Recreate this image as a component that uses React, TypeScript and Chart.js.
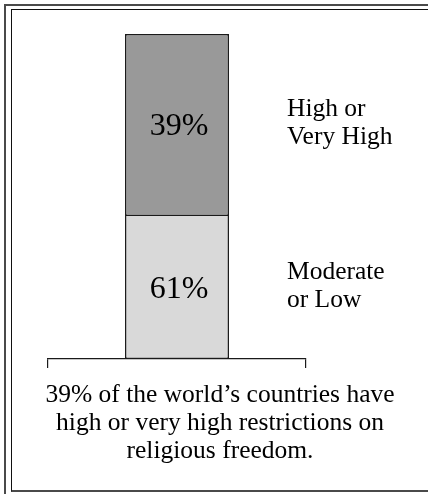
import React, { useEffect, useRef } from "react";
import { Chart, registerables } from "chart.js";

Chart.register(...registerables);

// ---- data ----
const categories = ["Countries"];
const segmentNames = ["Moderate or Low", "High or Very High"];
// segment heights as drawn in the picture (bottom, top)
const barValues = [44, 56];
const percentLabels = ["61%", "39%"];
const sideLabels = [
  ["Moderate", "or Low"],
  ["High or", "Very High"],
];
const segmentColors = ["#d9d9d9", "#999999"];
const captionLines = [
  "39% of the world\u2019s countries have",
  "high or very high restrictions on",
  "religious freedom.",
];

const SERIF = '"Liberation Serif", "DejaVu Serif", serif';

const labelPlugin = {
  id: "segmentLabels",
  afterDatasetsDraw(chart: any) {
    const ctx = chart.ctx;
    ctx.save();
    ctx.fillStyle = "#000000";
    chart.data.datasets.forEach((_ds: any, i: number) => {
      const meta = chart.getDatasetMeta(i);
      const bar: any = meta.data[0];
      if (!bar) return;
      const props = bar.getProps(["x", "y", "base", "width"], true);
      const cy = (props.y + props.base) / 2;
      // percent inside bar
      ctx.font = `32px ${SERIF}`;
      ctx.textAlign = "center";
      ctx.textBaseline = "alphabetic";
      ctx.fillText(percentLabels[i], props.x + 2, cy + 10);
      // side label
      ctx.font = `25.5px ${SERIF}`;
      ctx.textAlign = "left";
      const lx = props.x + props.width / 2 + 58;
      const lines = sideLabels[i];
      lines.forEach((t: string, k: number) => {
        ctx.fillText(t, lx, cy - 9 + k * 28);
      });
    });
    // caption
    const area = chart.chartArea;
    ctx.font = `25.5px ${SERIF}`;
    ctx.textAlign = "center";
    const cx = chart.width / 2 + 6;
    captionLines.forEach((t: string, k: number) => {
      ctx.fillText(t, cx, area.bottom + 43 + k * 28);
    });
    ctx.restore();
  },
};

export default function App() {
  const canvasRef = useRef<HTMLCanvasElement | null>(null);

  useEffect(() => {
    const canvas = canvasRef.current;
    if (!canvas) return;
    const chart = new Chart(canvas, {
      type: "bar",
      data: {
        labels: categories,
        datasets: barValues.map((v, i) => ({
          label: segmentNames[i],
          data: [v],
          backgroundColor: segmentColors[i],
          borderColor: "#1a1a1a",
          borderWidth: 1.5,
          borderSkipped: i === 0 ? "top" : false,
          barPercentage: 0.403,
          categoryPercentage: 1,
        })),
      },
      options: {
        responsive: false,
        animation: false,
        devicePixelRatio: 1,
        layout: { padding: { left: 48, right: 122, top: 34, bottom: 126 } },
        plugins: {
          legend: { display: false },
          tooltip: { enabled: false },
          title: { display: false },
        },
        scales: {
          x: {
            stacked: true,
            offset: true,
            grid: {
              display: true,
              offset: true,
              drawOnChartArea: false,
              drawTicks: true,
              tickLength: 9,
              color: "#1a1a1a",
              lineWidth: 1.2,
            },
            border: { display: true, color: "#1a1a1a", width: 1.2 },
            ticks: { display: false },
          },
          y: {
            stacked: true,
            display: false,
            min: 0,
            max: 100,
          },
        },
      },
      plugins: [labelPlugin],
    });
    return () => chart.destroy();
  }, []);

  return (
    <div
      style={{
        position: "fixed",
        left: 0,
        top: 0,
        width: 428,
        height: 494,
        overflow: "hidden",
        background: "#ffffff",
      }}
    >
      <div
        style={{
          position: "absolute",
          left: 4,
          top: 4,
          width: 600,
          height: 600,
          borderLeft: "2px solid #4a4a4a",
          borderTop: "2px solid #4a4a4a",
        }}
      />
      <div
        style={{
          position: "absolute",
          left: 11,
          top: 9,
          width: 600,
          height: 480,
          borderLeft: "1.5px solid #111111",
          borderTop: "1.5px solid #111111",
          borderBottom: "2px solid #4a4a4a",
        }}
      />
      <canvas
        ref={canvasRef}
        width={428}
        height={494}
        style={{ position: "absolute", left: 0, top: 0, display: "block" }}
      />
    </div>
  );
}
